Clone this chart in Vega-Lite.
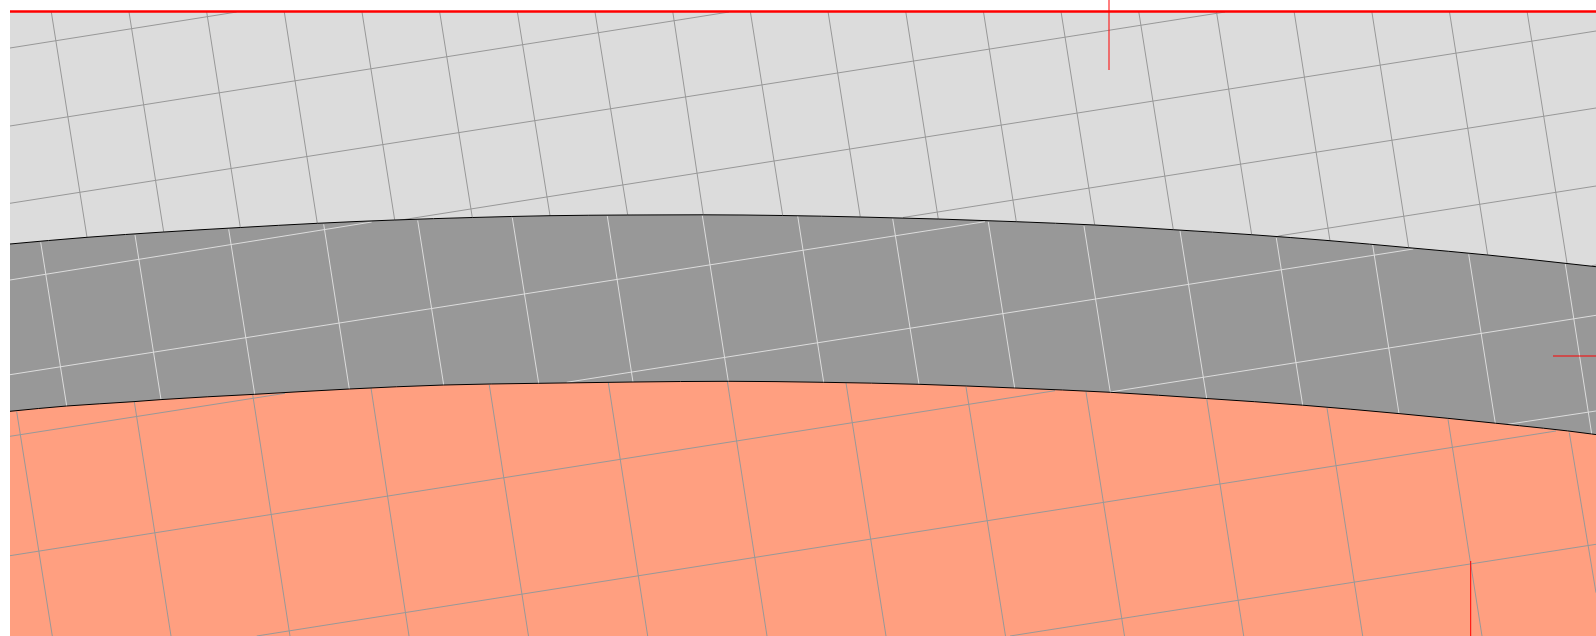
{"$schema":"https://vega.github.io/schema/vega-lite/v6.json","width":1596,"height":636,"padding":0,"autosize":{"type":"none"},"background":"#ffffff","config":{"view":{"stroke":null}},
"datasets":{
"upperEdge":[{"x":10,"y":244},{"x":87,"y":237.3},{"x":163.7,"y":232},{"x":240.3,"y":227.5},{"x":317.3,"y":223.3},{"x":394.7,"y":220},{"x":472.3,"y":217.5},{"x":550,"y":215.7},{"x":627.7,"y":215},{"x":703.3,"y":214.8},{"x":782.7,"y":215.5},{"x":860.3,"y":217},{"x":938.3,"y":219},{"x":1016.3,"y":221.7},{"x":1094.7,"y":225},{"x":1173.3,"y":229.7},{"x":1251.7,"y":234.7},{"x":1330,"y":240.7},{"x":1408.7,"y":247.7},{"x":1487.7,"y":255},{"x":1567,"y":263.5},{"x":1596,"y":266.7}],
"lowerEdge":[{"x":10,"y":411.3},{"x":66.7,"y":406},{"x":133,"y":401.7},{"x":161,"y":399.6},{"x":254.7,"y":394.3},{"x":349.3,"y":389},{"x":443.7,"y":385},{"x":538.7,"y":383.3},{"x":633,"y":382},{"x":728.3,"y":381.3},{"x":823.7,"y":382.3},{"x":919,"y":384.3},{"x":1014.7,"y":388},{"x":1110.3,"y":392.3},{"x":1206.7,"y":398.5},{"x":1302.7,"y":405.2},{"x":1399,"y":413.6},{"x":1495.3,"y":423.2},{"x":1591.7,"y":434},{"x":1596,"y":434.6}],
"grid":[
{"r":"light","x":51.3,"y":12,"x2":87,"y2":237.3},{"r":"light","x":129,"y":12,"x2":163.7,"y2":232},{"r":"light","x":206.7,"y":12,"x2":240.3,"y2":227.5},{"r":"light","x":284.3,"y":12,"x2":317.3,"y2":223.3},{"r":"light","x":362,"y":12,"x2":394.7,"y2":220},{"r":"light","x":439.7,"y":12,"x2":472.3,"y2":217.5},{"r":"light","x":517.4,"y":12,"x2":550,"y2":215.7},{"r":"light","x":595,"y":12,"x2":627.7,"y2":215},{"r":"light","x":672.8,"y":12,"x2":703.3,"y2":214.8},{"r":"light","x":750.4,"y":12,"x2":782.7,"y2":215.5},{"r":"light","x":828.1,"y":12,"x2":860.3,"y2":217},{"r":"light","x":905.8,"y":12,"x2":938.3,"y2":219},{"r":"light","x":983.5,"y":12,"x2":1016.3,"y2":221.7},{"r":"light","x":1061.1,"y":12,"x2":1094.7,"y2":225},{"r":"light","x":1138.8,"y":12,"x2":1173.3,"y2":229.7},{"r":"light","x":1216.5,"y":12,"x2":1251.7,"y2":234.7},{"r":"light","x":1294.2,"y":12,"x2":1330,"y2":240.7},{"r":"light","x":1371.9,"y":12,"x2":1408.7,"y2":247.7},{"r":"light","x":1449.5,"y":12,"x2":1487.7,"y2":255},{"r":"light","x":1527.2,"y":12,"x2":1567,"y2":263},
{"r":"light","x":10,"y":48,"x2":236.7,"y2":12},{"r":"light","x":10,"y":126,"x2":729,"y2":12},{"r":"light","x":10,"y":203.3,"x2":1225,"y2":12},{"r":"light","x":400,"y":220.2,"x2":1596,"y2":31},{"r":"light","x":903,"y":217.5,"x2":1596,"y2":108},{"r":"light","x":1278.3,"y":236,"x2":1596,"y2":186},{"r":"light","x":1591.7,"y":265.7,"x2":1596,"y2":265},
{"r":"dark","x":40.7,"y":242.3,"x2":66.7,"y2":406},{"r":"dark","x":135,"y":235,"x2":161,"y2":399.6},{"r":"dark","x":228.7,"y":229.3,"x2":254.7,"y2":394.3},{"r":"dark","x":323.7,"y":224.3,"x2":349.3,"y2":389},{"r":"dark","x":417.7,"y":220.5,"x2":443.7,"y2":385},{"r":"dark","x":512.3,"y":217.7,"x2":538.7,"y2":383.3},{"r":"dark","x":607.3,"y":216,"x2":633,"y2":382},{"r":"dark","x":702.3,"y":215.5,"x2":728.3,"y2":381.3},{"r":"dark","x":797.7,"y":216,"x2":823.7,"y2":382.3},{"r":"dark","x":892.7,"y":218.7,"x2":919,"y2":384.3},{"r":"dark","x":988.3,"y":221.7,"x2":1014.7,"y2":388},{"r":"dark","x":1084,"y":226,"x2":1110.3,"y2":392.3},{"r":"dark","x":1180,"y":231,"x2":1206.7,"y2":398.5},{"r":"dark","x":1276.3,"y":238,"x2":1302.7,"y2":405.2},{"r":"dark","x":1372.7,"y":245,"x2":1399,"y2":413.6},{"r":"dark","x":1468.7,"y":254.3,"x2":1495.3,"y2":423.2},{"r":"dark","x":1565.3,"y":264,"x2":1591.7,"y2":434},
{"r":"dark","x":10,"y":280,"x2":371.7,"y2":222},{"r":"dark","x":10,"y":374.7,"x2":985,"y2":221.7},{"r":"dark","x":566.7,"y":382.3,"x2":1413.3,"y2":249},{"r":"dark","x":1110,"y":392,"x2":1596,"y2":315.3},{"r":"dark","x":1507.7,"y":424.3,"x2":1596,"y2":411},
{"r":"salmon","x":16.7,"y":411.7,"x2":52.3,"y2":636},{"r":"salmon","x":134.3,"y":401.7,"x2":171,"y2":636},{"r":"salmon","x":252.7,"y":394.7,"x2":290,"y2":636},{"r":"salmon","x":371,"y":388,"x2":409,"y2":636},{"r":"salmon","x":489.3,"y":385,"x2":528.5,"y2":636},{"r":"salmon","x":608.3,"y":382.5,"x2":647.7,"y2":636},{"r":"salmon","x":727.3,"y":381.3,"x2":767,"y2":636},{"r":"salmon","x":846,"y":383,"x2":886,"y2":636},{"r":"salmon","x":966,"y":387,"x2":1005.5,"y2":636},{"r":"salmon","x":1086,"y":392,"x2":1124.5,"y2":636},{"r":"salmon","x":1206.7,"y":398.7,"x2":1243.7,"y2":636},{"r":"salmon","x":1327,"y":408,"x2":1362.7,"y2":636},{"r":"salmon","x":1448,"y":419.3,"x2":1482,"y2":636},{"r":"salmon","x":1569.3,"y":432.7,"x2":1596,"y2":592.7},
{"r":"salmon","x":10,"y":436.3,"x2":285,"y2":393.3},{"r":"salmon","x":10,"y":555.7,"x2":1055,"y2":390.7},{"r":"salmon","x":256.7,"y":636,"x2":1556,"y2":431},{"r":"salmon","x":1010,"y":636,"x2":1596,"y2":544.3}
],
"ticks":[{"x":10,"y":11.5,"x2":1596,"y2":11.5,"w":"top"},{"x":1109,"y":0,"x2":1109,"y2":70,"w":"tick"},{"x":1553,"y":356,"x2":1596,"y2":356,"w":"tick"},{"x":1470.7,"y":561,"x2":1470.7,"y2":636,"w":"tick"}]
},
"layer":[
{"data":{"name":"upperEdge"},"mark":{"type":"area","color":"#dcdcdc","interpolate":"monotone"},"encoding":{"x":{"field":"x","type":"quantitative","scale":{"domain":[0,1596],"nice":false,"zero":false},"axis":null},"y":{"field":"y","type":"quantitative","scale":{"domain":[636,0],"nice":false,"zero":false},"axis":null},"y2":{"datum":11.5}}},
{"data":{"name":"upperEdge"},"mark":{"type":"area","color":"#989898","interpolate":"monotone"},"encoding":{"x":{"field":"x","type":"quantitative"},"y":{"field":"y","type":"quantitative"},"y2":{"datum":636}}},
{"data":{"name":"lowerEdge"},"mark":{"type":"area","color":"#ff9f80","interpolate":"monotone"},"encoding":{"x":{"field":"x","type":"quantitative"},"y":{"field":"y","type":"quantitative"},"y2":{"datum":636}}},
{"data":{"name":"grid"},"mark":{"type":"rule","strokeWidth":1},"encoding":{"x":{"field":"x","type":"quantitative"},"y":{"field":"y","type":"quantitative"},"x2":{"field":"x2"},"y2":{"field":"y2"},"color":{"field":"r","type":"nominal","legend":null,"scale":{"domain":["light","dark","salmon"],"range":["#989898","#dcdcdc","#989898"]}}}},
{"data":{"name":"upperEdge"},"mark":{"type":"line","color":"#000000","strokeWidth":1,"interpolate":"monotone"},"encoding":{"x":{"field":"x","type":"quantitative"},"y":{"field":"y","type":"quantitative"}}},
{"data":{"name":"lowerEdge"},"mark":{"type":"line","color":"#000000","strokeWidth":1,"interpolate":"monotone"},"encoding":{"x":{"field":"x","type":"quantitative"},"y":{"field":"y","type":"quantitative"}}},
{"data":{"name":"ticks"},"mark":{"type":"rule","color":"#ff0000"},"encoding":{"x":{"field":"x","type":"quantitative"},"y":{"field":"y","type":"quantitative"},"x2":{"field":"x2"},"y2":{"field":"y2"},"strokeWidth":{"field":"w","type":"nominal","legend":null,"scale":{"domain":["top","tick"],"range":[2.5,1]}}}}
]}
